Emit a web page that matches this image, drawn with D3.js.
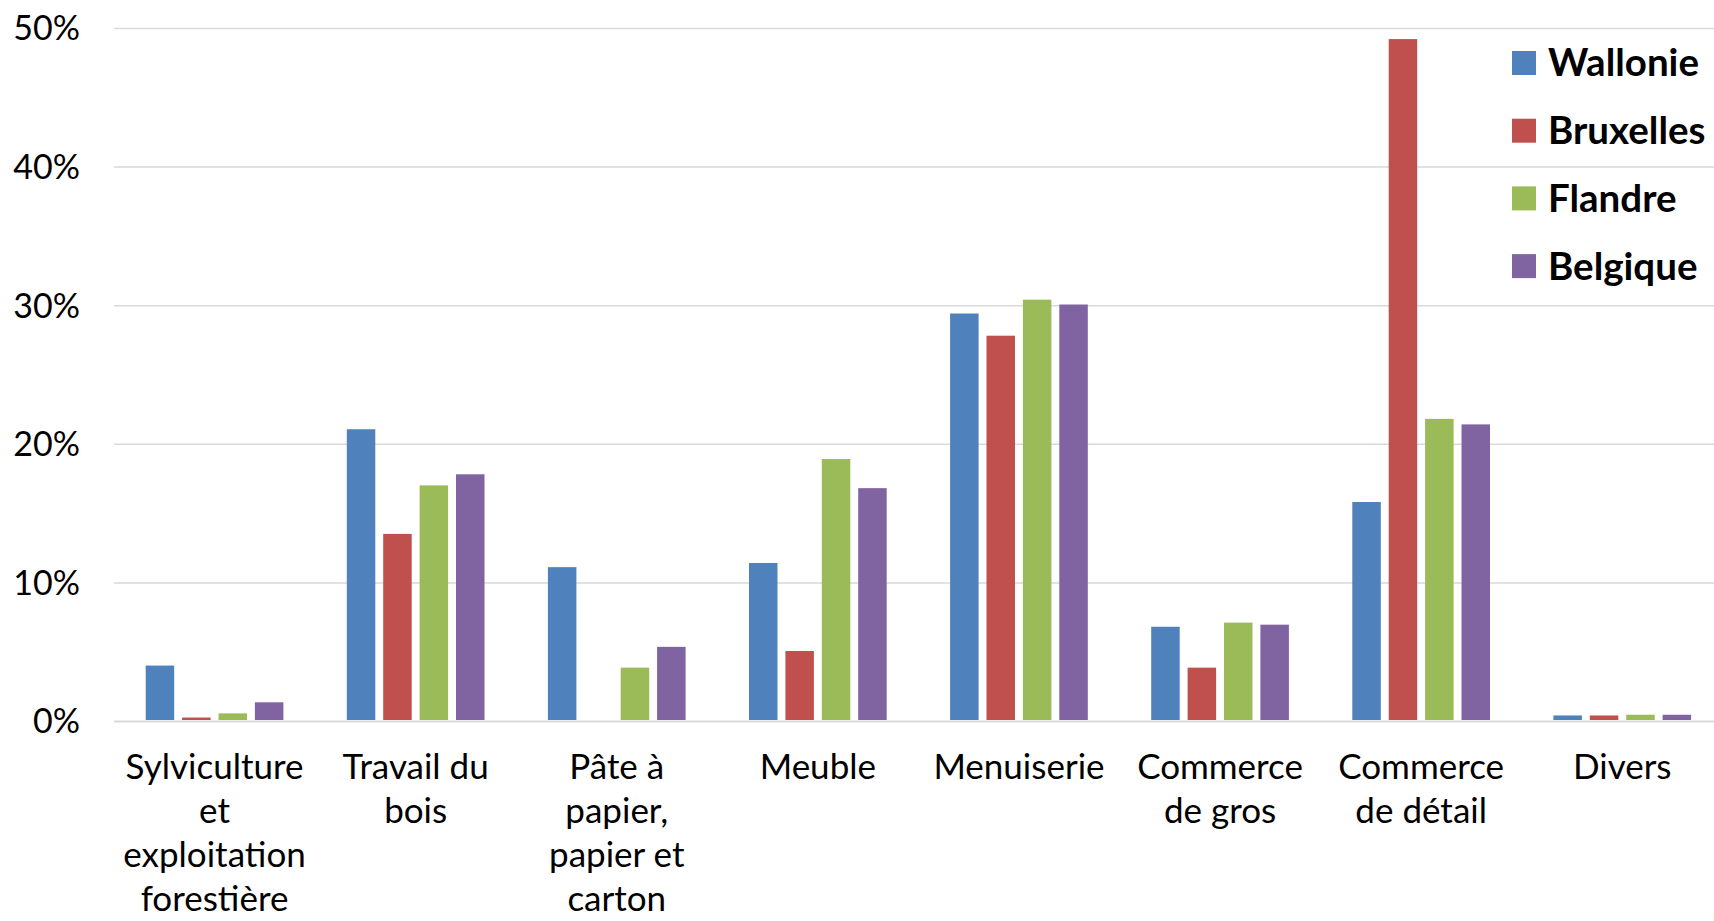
<!DOCTYPE html>
<html>
<head>
<meta charset="utf-8">
<script src="https://cdn.jsdelivr.net/npm/d3@7"></script>
<style>
  html, body { margin: 0; padding: 0; background: #fff; overflow: hidden; }
  svg { display: block; }
  text { font-family: Lato, "Open Sans", sans-serif; fill: #000; }
</style>
</head>
<body>
<svg id="chart" width="1714" height="921"></svg>
<script>
// ---- data ----
const categories = ["Sylviculture et exploitation forestière", "Travail du bois", "Pâte à papier, papier et carton", "Meuble", "Menuiserie", "Commerce de gros", "Commerce de détail", "Divers"];
const categoryLines = [
  ["Sylviculture", "et", "exploitation", "forestière"],
  ["Travail du", "bois"],
  ["Pâte à", "papier,", "papier et", "carton"],
  ["Meuble"],
  ["Menuiserie"],
  ["Commerce", "de gros"],
  ["Commerce", "de détail"],
  ["Divers"]
];
const seriesNames = ["Wallonie", "Bruxelles", "Flandre", "Belgique"];
const wallonie  = [4.0, 21.05, 11.1, 11.4, 29.4, 6.8, 15.8, 0.4];
const bruxelles = [0.25, 13.5, 0.0, 5.05, 27.8, 3.85, 49.2, 0.4];
const flandre   = [0.55, 17.0, 3.85, 18.9, 30.4, 7.1, 21.8, 0.45];
const belgique  = [1.35, 17.8, 5.35, 16.8, 30.05, 6.95, 21.4, 0.45];
const seriesValues = [wallonie, bruxelles, flandre, belgique];
const colors = ["#4F81BD", "#C0504D", "#9BBB59", "#8064A2"];
const yTicks = [0, 10, 20, 30, 40, 50];

// ---- layout ----
const svg = d3.select("#chart");
const plotLeft = 114, bandW = 201.1;
const yTop = 28, yZero = 721;

const x0 = d3.scaleBand().domain(categories)
  .range([plotLeft, plotLeft + bandW * categories.length]).padding(0);
const groupW = 137.7;
const x1 = d3.scaleBand().domain(seriesNames).range([0, groupW]).paddingInner(0.217).paddingOuter(0);
const y = d3.scaleLinear().domain([0, 50]).range([yZero, yTop]);

// gridlines
const yAxis = d3.axisLeft(y).tickValues(yTicks).tickFormat(d => d + "%")
  .tickSize(-(1714 - plotLeft)).tickPadding(0);
const gy = svg.append("g").attr("transform", `translate(${plotLeft},0)`).call(yAxis);
gy.select(".domain").remove();
gy.selectAll(".tick line").attr("stroke", "#d9d9d9").attr("stroke-width", 1.5);
gy.selectAll(".tick text").attr("x", -34).attr("dy", "0.35em")
  .style("font-size", "34px").attr("fill", "#000");
gy.selectAll(".tick").filter(d => d === 0).select("line").attr("stroke-width", 2.2);

// bars
const groups = svg.append("g").selectAll("g").data(categories).join("g")
  .attr("transform", d => `translate(${x0(d) + x0.bandwidth() / 2 - groupW / 2},0)`);
groups.selectAll("rect")
  .data((c, i) => seriesNames.map((s, j) => ({ s, v: seriesValues[j][i], j })))
  .join("rect")
  .attr("x", d => x1(d.s))
  .attr("width", x1.bandwidth())
  .attr("y", d => y(d.v))
  .attr("height", d => Math.max(0, y(0) - y(d.v) - 1))
  .attr("fill", d => colors[d.j]);

// category labels
const labels = svg.append("g").selectAll("text").data(categories).join("text")
  .attr("text-anchor", "middle")
  .attr("x", d => x0(d) + x0.bandwidth() / 2)
  .attr("y", 779)
  .style("font-size", "35px");
labels.each(function (d, i) {
  d3.select(this).selectAll("tspan").data(categoryLines[i]).join("tspan")
    .attr("x", x0(d) + x0.bandwidth() / 2)
    .attr("dy", (t, k) => k === 0 ? 0 : 44)
    .text(t => t);
});

// legend
const legend = svg.append("g").selectAll("g").data(seriesNames).join("g")
  .attr("transform", (d, i) => `translate(1512,${63 + i * 67.7})`);
legend.append("rect").attr("x", 0).attr("y", -12).attr("width", 24).attr("height", 24)
  .attr("fill", (d, i) => colors[i]);
legend.append("text").attr("x", 36).attr("dy", "0.35em")
  .style("font-size", "38.5px").style("font-weight", "bold").text(d => d);
</script>
</body>
</html>
